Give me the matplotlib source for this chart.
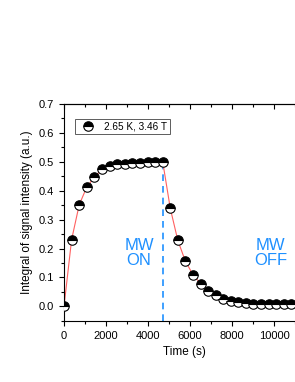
import matplotlib
matplotlib.use("Agg")
import matplotlib.pyplot as plt
from matplotlib.ticker import MultipleLocator, NullFormatter

plt.rcParams['font.family'] = ['Liberation Sans', 'DejaVu Sans']

# MW on: build-up
t_on = [0, 362, 723, 1085, 1446, 1808, 2169, 2531, 2892, 3254, 3615, 3977, 4338, 4700]
y_on = [0.0, 0.231, 0.351, 0.413, 0.447, 0.474, 0.487, 0.492, 0.494, 0.495, 0.497, 0.498, 0.499, 0.500]
# MW off: decay
t_off = [5060, 5420, 5780, 6140, 6500, 6860, 7220, 7580, 7940, 8300, 8660, 9020, 9380, 9740, 10100, 10460, 10820]
y_off = [0.339, 0.228, 0.156, 0.110, 0.079, 0.055, 0.038, 0.027, 0.020, 0.015, 0.012, 0.010, 0.009, 0.008, 0.008, 0.007, 0.007]
switch_time = 4700
label = "2.65 K, 3.46 T"

t_all = t_on + t_off
y_all = y_on + y_off

fig = plt.figure(figsize=(2.95, 3.82), dpi=100)
ax = fig.add_axes([0.217, 0.160, 231 / 295 * 11500 / 11000, 0.568])

ax.plot(t_all, y_all, color='#ff6060', lw=0.8, zorder=2)
ax.plot(t_all, y_all, ls='none', marker='o', fillstyle='top', markersize=6.8,
        markerfacecolor='black', markerfacecoloralt='white', markeredgecolor='black',
        markeredgewidth=0.8, zorder=3, label=label)
ax.vlines(switch_time, -0.05, 0.5, colors='#1e90ff', linestyles=(0, (4, 3)), lw=1.2, zorder=1)

ax.text(3570, 0.185, "MW\nON", color='#1e90ff', fontsize=12, ha='center', va='center', linespacing=1.05)
ax.text(9830, 0.185, "MW\nOFF", color='#1e90ff', fontsize=12, ha='center', va='center', linespacing=1.05)

ax.set_xlim(0, 11500)
ax.set_ylim(-0.05, 0.7)
ax.xaxis.set_major_locator(MultipleLocator(2000))
ax.xaxis.set_minor_locator(MultipleLocator(1000))
ax.yaxis.set_major_locator(MultipleLocator(0.1))
ax.yaxis.set_minor_locator(MultipleLocator(0.05))
ax.tick_params(which='both', direction='out', labelsize=8, width=0.8)
ax.tick_params(which='major', length=3.5)
ax.tick_params(which='minor', length=2)

top = ax.secondary_xaxis('top')
top.xaxis.set_major_locator(MultipleLocator(2000))
top.xaxis.set_minor_locator(MultipleLocator(1000))
top.xaxis.set_major_formatter(NullFormatter())
top.tick_params(which='both', direction='in', width=0.8)
top.tick_params(which='major', length=3.5)
top.tick_params(which='minor', length=2)
top.spines['top'].set_linewidth(0.8)

ax.set_yticks([0.0, 0.1, 0.2, 0.3, 0.4, 0.5, 0.6, 0.7])
ax.set_yticklabels([f"{v:.1f}" for v in [0.0, 0.1, 0.2, 0.3, 0.4, 0.5, 0.6, 0.7]])
ax.set_xlabel("Time (s)", fontsize=8.5, labelpad=4)
ax.set_ylabel("Integral of signal intensity (a.u.)", fontsize=8.5, labelpad=4)
for s in ax.spines.values():
    s.set_linewidth(0.8)

leg = ax.legend(loc='upper left', bbox_to_anchor=(0.045, 0.93), fontsize=7.2, frameon=True,
                fancybox=False, edgecolor='#333333', borderpad=0.25, handletextpad=0.5,
                handlelength=2.2, borderaxespad=0)
leg.get_frame().set_linewidth(0.7)

fig.savefig("out.png", dpi=100)
